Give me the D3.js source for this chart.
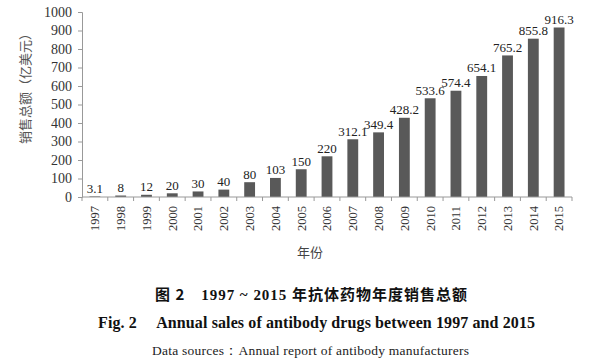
<!DOCTYPE html>
<html>
<head>
<meta charset="utf-8">
<script src="https://cdn.jsdelivr.net/npm/d3@7"></script>
<style>
  body { margin: 0; background: #fff; }
</style>
</head>
<body>
<svg id="chart"></svg>
<script>
// data
const years = ["1997","1998","1999","2000","2001","2002","2003","2004","2005","2006",
               "2007","2008","2009","2010","2011","2012","2013","2014","2015"];
const sales = [3.1, 8, 12, 20, 30, 40, 80, 103, 150, 220,
               312.1, 349.4, 428.2, 533.6, 574.4, 654.1, 765.2, 855.8, 916.3];
const labels = ["3.1","8","12","20","30","40","80","103","150","220",
                "312.1","349.4","428.2","533.6","574.4","654.1","765.2","855.8","916.3"];
const yTicks = [0,100,200,300,400,500,600,700,800,900,1000];

const w = 612, h = 361;
const plotL = 82, plotR = 572, plotT = 12, plotB = 197;
const serif = "'Liberation Serif', 'Times New Roman', serif";
const cjk = "'Noto Sans CJK SC', sans-serif";

const svg = d3.select("#chart").attr("width", w).attr("height", h);

const x = d3.scaleBand()
    .domain(years)
    .range([plotL, plotR])
    .paddingInner(0.58)
    .paddingOuter(0.29);

const y = d3.scaleLinear()
    .domain([0, 1000])
    .range([plotB, plotT]);

// bars
svg.selectAll("rect.bar")
    .data(sales)
    .enter()
    .append("rect")
    .attr("class", "bar")
    .attr("x", (d, i) => x(years[i]))
    .attr("y", d => y(d))
    .attr("width", x.bandwidth())
    .attr("height", d => plotB - y(d))
    .attr("fill", "#595959");

// value labels
svg.selectAll("text.val")
    .data(sales)
    .enter()
    .append("text")
    .attr("class", "val")
    .attr("x", (d, i) => x(years[i]) + x.bandwidth() / 2)
    .attr("y", d => y(d) - 3.5)
    .attr("text-anchor", "middle")
    .style("font-family", serif)
    .style("font-size", "13px")
    .attr("fill", "#222")
    .text((d, i) => labels[i]);

// y axis
const yAxis = svg.append("g")
    .attr("transform", `translate(${plotL},0)`)
    .call(d3.axisLeft(y).tickValues(yTicks).tickFormat(d3.format("d")).tickSize(4).tickPadding(6));
yAxis.selectAll("text")
    .style("font-family", serif)
    .style("font-size", "14px")
    .attr("fill", "#333");
yAxis.selectAll("line, path").attr("stroke", "#999");

// x axis: line with ticks at band boundaries
const step = x.step();
const bounds = d3.range(years.length + 1).map(i => plotL + i * step);
const xg = svg.append("g");
xg.append("line")
    .attr("x1", plotL).attr("x2", plotR)
    .attr("y1", plotB).attr("y2", plotB)
    .attr("stroke", "#999");
xg.selectAll("line.tick")
    .data(bounds)
    .enter()
    .append("line")
    .attr("class", "tick")
    .attr("x1", d => d).attr("x2", d => d)
    .attr("y1", plotB).attr("y2", plotB + 4)
    .attr("stroke", "#999");

// rotated year labels
xg.selectAll("text.year")
    .data(years)
    .enter()
    .append("text")
    .attr("class", "year")
    .attr("transform", d => `translate(${x(d) + x.bandwidth() / 2},${plotB + 9}) rotate(-90)`)
    .attr("text-anchor", "end")
    .attr("dy", "0.35em")
    .style("font-family", serif)
    .style("font-size", "12.5px")
    .attr("fill", "#333")
    .text(d => d);

// axis titles
svg.append("text")
    .attr("transform", `translate(25,85.5) rotate(-90)`)
    .attr("text-anchor", "middle")
    .attr("dy", "0.35em")
    .style("font-family", cjk)
    .style("font-size", "13px")
    .attr("fill", "#555")
    .text("销售总额（亿美元）");

svg.append("text")
    .attr("x", 310)
    .attr("y", 252)
    .attr("text-anchor", "middle")
    .attr("dy", "0.35em")
    .style("font-family", cjk)
    .style("font-size", "13px")
    .attr("fill", "#444")
    .text("年份");

// captions
const cap1 = svg.append("text")
    .attr("x", 155).attr("y", 295)
    .attr("dy", "0.35em")
    .attr("textLength", 312)
    .attr("lengthAdjust", "spacing")
    .style("font-family", serif)
    .style("font-size", "15px")
    .style("font-weight", "bold")
    .attr("fill", "#111");
cap1.append("tspan").style("font-family", cjk).text("图 2");
cap1.append("tspan").attr("dx", 16).text("1997 ~ 2015 ");
cap1.append("tspan").style("font-family", cjk).text("年抗体药物年度销售总额");

svg.append("text")
    .attr("x", 98).attr("y", 322)
    .attr("dy", "0.35em")
    .attr("textLength", 437)
    .attr("lengthAdjust", "spacing")
    .style("font-family", serif)
    .style("font-size", "16px")
    .style("font-weight", "bold")
    .attr("fill", "#111")
    .text("Fig. 2\u2003 Annual sales of antibody drugs between 1997 and 2015");

svg.append("text")
    .attr("x", 152).attr("y", 350)
    .attr("dy", "0.35em")
    .attr("textLength", 317)
    .attr("lengthAdjust", "spacing")
    .style("font-family", serif)
    .style("font-size", "13.5px")
    .attr("fill", "#222")
    .text("Data sources\uff1aAnnual report of antibody manufacturers");
</script>
</body>
</html>
